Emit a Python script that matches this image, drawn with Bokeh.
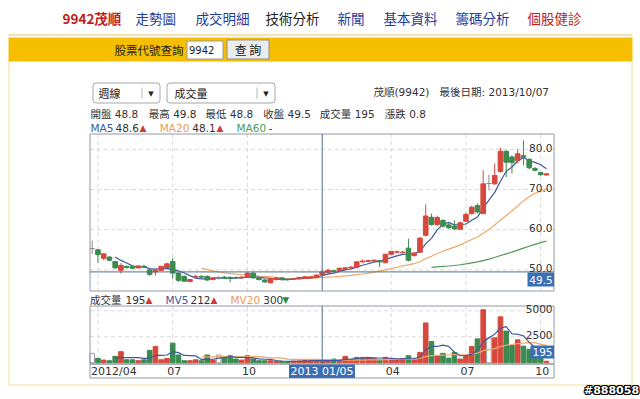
import numpy as np
import pandas as pd
from bokeh.plotting import figure
from bokeh.models import Range1d, ColumnDataSource
from bokeh.core.properties import value
from bokeh.embed import file_html
from bokeh.resources import INLINE

# ---------------- data (weekly candles, 9942 茂順) ----------------
opens = [55.3, 55.0, 52.9, 53.2, 52.1, 49.9, 50.9, 50.8, 50.5, 50.9,
         50.0, 49.5, 49.9, 50.6, 52.1, 49.2, 48.4, 47.1, 48.2, 48.4,
         48.4, 47.6, 48.1, 48.2, 48.1, 48.1, 48.0, 48.1, 49.2, 48.0,
         47.5, 46.8, 47.6, 48.0, 47.7, 47.7, 47.8, 47.9, 48.0, 48.1,
         48.8, 49.3, 49.8, 49.9, 50.1, 50.5, 50.7, 52.0, 52.1, 52.2,
         52.3, 51.8, 53.9, 54.4, 54.3, 55.4, 53.6, 54.4, 58.6, 63.1,
         61.3, 62.3, 61.2, 60.9, 60.1, 62.1, 64.0, 66.0, 64.0, 71.5,
         71.4, 74.5, 79.5, 78.1, 77.2, 78.4, 77.5, 75.2, 74.2, 73.6]
highs = [57.3, 55.2, 54.1, 53.4, 52.2, 51.7, 51.0, 51.0, 51.1, 51.3,
         50.2, 50.2, 51.0, 51.8, 53.0, 49.4, 48.6, 47.7, 48.8, 48.7,
         48.6, 48.1, 48.5, 48.5, 48.4, 48.4, 48.5, 49.4, 49.4, 48.2,
         47.7, 47.9, 48.2, 48.2, 47.9, 48.0, 48.3, 48.5, 48.4, 48.9,
         49.8, 50.3, 50.1, 50.6, 50.7, 50.9, 52.2, 52.6, 52.5, 52.6,
         52.4, 54.0, 54.7, 54.8, 54.7, 57.8, 54.5, 58.2, 66.3, 64.0,
         63.5, 62.6, 61.6, 62.3, 62.0, 64.2, 66.0, 66.5, 74.8, 73.7,
         76.5, 80.4, 79.8, 78.5, 80.0, 82.2, 77.8, 75.6, 74.4, 74.0]
lows = [54.0, 51.8, 52.4, 52.2, 50.3, 49.1, 50.3, 50.2, 50.4, 50.4,
        48.5, 48.6, 49.7, 50.4, 47.8, 47.0, 47.0, 47.0, 47.8, 47.9,
        47.3, 47.4, 47.6, 47.7, 46.9, 47.7, 47.8, 48.0, 47.9, 47.4,
        46.8, 46.6, 47.4, 47.4, 47.3, 47.5, 47.6, 47.8, 47.9, 48.0,
        48.8, 49.2, 49.3, 49.8, 49.9, 50.2, 50.6, 51.8, 51.9, 52.0,
        50.7, 51.6, 53.7, 54.1, 54.0, 52.1, 53.3, 54.2, 58.3, 61.0,
        61.0, 60.5, 60.2, 59.9, 60.0, 62.0, 63.8, 64.0, 63.9, 69.8,
        71.2, 74.2, 73.1, 74.0, 76.5, 76.0, 75.0, 74.5, 73.4, 73.5]
closes = [55.3, 53.8, 54.0, 52.4, 50.5, 51.1, 50.6, 50.4, 51.0, 50.7,
          48.9, 49.9, 50.9, 51.5, 49.2, 47.4, 47.2, 47.6, 48.4, 48.2,
          47.5, 48.0, 48.1, 48.0, 47.9, 48.0, 48.2, 49.2, 48.0, 47.6,
          47.0, 47.8, 48.0, 47.6, 47.6, 47.8, 48.1, 48.3, 48.3, 48.7,
          49.5, 49.9, 49.6, 50.4, 50.5, 50.7, 52.0, 52.2, 52.3, 52.4,
          52.0, 53.9, 54.6, 54.5, 54.4, 52.4, 54.2, 57.9, 63.4, 61.3,
          63.0, 60.9, 60.5, 60.2, 61.7, 63.8, 65.6, 64.4, 71.4, 71.5,
          73.5, 79.5, 76.8, 76.7, 78.9, 78.0, 75.4, 74.8, 73.7, 73.9]
volumes = [910, 420, 260, 200, 620, 1070, 290, 290, 200, 290,
           1200, 1560, 290, 420, 1890, 750, 200, 200, 290, 200,
           750, 260, 750, 520, 680, 360, 260, 680, 360, 200,
           200, 200, 130, 130, 50, 160, 180, 290, 225, 170,
           195, 200, 360, 260, 620, 330, 520, 520, 520, 450,
           290, 520, 360, 330, 420, 680, 290, 1000, 3830, 2050,
           680, 910, 450, 1000, 360, 680, 1560, 2300, 5100, 2400,
           2400, 4420, 3050, 1660, 2210, 1600, 1300, 700, 500, 150]

tick_weeks = [1, 14, 27, 52, 65, 78]
tick_labels = ["2012/04", "07", "10", "04", "07", "10"]
cross_week = 40
cross_label = "2013 01/05"
price_ticks = [50, 60, 70, 80]
price_tick_labels = ["50.0", "60.0", "70.0", "80.0"]
vol_ticks = [2500, 5000]
vol_tick_labels = ["2500", "5000"]

nav_items = ["9942茂順", "走勢圖", "成交明細", "技術分析", "新聞", "基本資料", "籌碼分析", "個股健診"]
nav_colors = ["#c0201c", "#1f3d9c", "#1f3d9c", "#222222", "#1f3d9c", "#1f3d9c", "#1f3d9c", "#c0201c"]

# ---------------- derived ----------------
idx = list(range(len(closes)))
cl = pd.Series(closes)
vs = pd.Series(volumes, dtype=float)
ma5 = cl.rolling(5).mean().tolist()
ma20 = cl.rolling(20).mean().tolist()
ma60 = cl.rolling(60).mean().tolist()
mv5 = vs.rolling(5).mean().tolist()
mv20 = vs.rolling(20).mean().tolist()

RED, GREEN, FLAT = "#d8473b", "#3b8a50", "#8a8a8a"
cols = [RED if c > o else (GREEN if c < o else FLAT) for o, c in zip(opens, closes)]
vfill = [RED if c > o else (GREEN if c < o else "white") for o, c in zip(opens, closes)]
vline = [RED if c > o else (GREEN if c < o else "#9a9a9a") for o, c in zip(opens, closes)]
src = ColumnDataSource(dict(
    x=idx, o=opens, h=highs, l=lows, c=closes, v=volumes,
    top=[max(a, b) for a, b in zip(opens, closes)],
    bot=[min(a, b) for a, b in zip(opens, closes)],
    col=cols, vfill=vfill, vline=vline))

# ---------------- layout (page pixel geometry) ----------------
W, H = 640, 399
X0, DX = 91.7, 5.75            # pixel of week 0, pixels per week
Y50, PY = 269.4, 4.02          # pixel of price 50, pixels per price unit
V0, VS = 362.3, 26.0 / 2500    # pixel of volume 0, pixels per lot
CL, CR = 89.5, 553.5           # chart frame left/right
PT, PB = 133.5, 290.5          # price frame top/bottom
VT, VB = 305.5, 363.5          # volume frame top/bottom

F = "DejaVu Sans, Noto Sans CJK TC"
FC = "Noto Sans CJK TC"

p = figure(width=W, height=H, x_range=Range1d(0, W), y_range=Range1d(H, 0),
           output_backend="svg", toolbar_location=None, min_border=0,
           x_axis_location=None, y_axis_location=None)
p.grid.visible = False
p.outline_line_color = None
p.background_fill_color = "white"
p.border_fill_color = "white"
p.extra_x_ranges = {"wk": Range1d((0 - X0) / DX, (W - X0) / DX)}
p.extra_y_ranges = {"px": Range1d(50 - (H - Y50) / PY, 50 + (Y50 - 0) / PY),
                    "vol": Range1d(-(H - V0) / VS, (V0 - 0) / VS)}


def txt(x, y, s, color="#333333", size="10.5px", font=F, align="left",
        baseline="middle", style="normal", **kw):
    p.text(x=[x], y=[y], text=[s], text_color=color, text_font=value(font),
           text_font_size=size, text_align=align, text_baseline=baseline,
           text_font_style=style, **kw)


# ---- header / navigation ----
nav_x = [62, 135, 195, 265, 337, 383, 455, 527]
for xx, s, c in zip(nav_x, nav_items, nav_colors):
    txt(xx, 17, s, color=c, size="13.5px", font=FC,
        style="bold" if s == "9942茂順" else "normal")
p.segment(x0=[8], y0=[34.5], x1=[632], y1=[34.5], line_color="#e8c95a", line_width=1)
p.quad(left=[8], right=[632], top=[37], bottom=[61], fill_color="#f6be00", line_color=None)
txt(183, 49, "股票代號查詢", color="#222222", size="11.5px", font=FC, align="right")
p.quad(left=[186.5], right=[222.5], top=[40.5], bottom=[58.5], fill_color="white", line_color="#9a9a9a")
txt(188.5, 49.5, "9942", color="#222222", size="10px", font="DejaVu Sans")
p.quad(left=[226.5], right=[268.5], top=[39.5], bottom=[58.5], fill_color="#ececec", line_color="#8f8f8f")
txt(247.5, 49, "查 詢", color="#222222", size="12px", font=FC, align="center")

# ---- panel ----
p.quad(left=[8.5], right=[631.5], top=[61], bottom=[384.5], fill_color="white", line_color="#f1dc92")

# ---- selectors ----
p.quad(left=[92.5, 166.5], right=[159.5, 274.5], top=[82.5, 82.5], bottom=[102.5, 102.5],
       fill_color="white", line_color="#a8a8a8", border_radius=3)
p.segment(x0=[141.5, 256.5], y0=[87, 87], x1=[141.5, 256.5], y1=[98, 98], line_color="#b5b5b5")
txt(98, 92.5, "週線", color="#222222", size="11px", font=FC)
txt(174, 92.5, "成交量", color="#222222", size="11px", font=FC)
txt(150.5, 93, "▼", color="#222222", size="7px", font="DejaVu Sans", align="center")
txt(265.5, 93, "▼", color="#222222", size="7px", font="DejaVu Sans", align="center")
txt(373, 91, "茂順(9942)", color="#333333")
txt(548.5, 91, "最後日期: 2013/10/07", color="#333333", align="right")

# ---- info lines ----
k = cross_week
info = [(90, "開盤 %.1f" % opens[k]), (148.3, "最高 %.1f" % highs[k]),
        (205, "最低 %.1f" % lows[k]), (262.7, "收盤 %.1f" % closes[k]),
        (319.3, "成交量 %d" % volumes[k]), (384.3, "漲跌 %.1f" % (closes[k] - closes[k - 1]))]
for xx, s in info:
    txt(xx, 113.5, s)


def arrow(now, prev):
    return ("▲", "#d03a2e") if now >= prev else ("▼", "#2f8a3c")


a5 = arrow(ma5[k], ma5[k - 1])
a20 = arrow(ma20[k], ma20[k - 1])
txt(90, 127.5, "MA5", color="#3d5a9e")
txt(115, 127.5, "%.1f" % ma5[k])
txt(139, 127.5, a5[0], color=a5[1], size="9px")
txt(159.3, 127.5, "MA20", color="#ef9a5a")
txt(191.7, 127.5, "%.1f" % ma20[k])
txt(216, 127.5, a20[0], color=a20[1], size="9px")
txt(236, 127.5, "MA60", color="#4e9a56")
txt(268, 127.5, "-")

b0 = arrow(volumes[k], volumes[k - 1])
b5 = arrow(mv5[k], mv5[k - 1])
b20 = arrow(mv20[k], mv20[k - 1])
txt(89.5, 299.3, "成交量")
txt(125, 299.3, "%d" % volumes[k])
txt(145, 299.3, b0[0], color=b0[1], size="9px")
txt(165, 299.3, "MV5", color="#3d5a9e")
txt(190, 299.3, "%d" % round(mv5[k]))
txt(210, 299.3, b5[0], color=b5[1], size="9px")
txt(230, 299.3, "MV20", color="#ef9a5a")
txt(262.7, 299.3, "%d" % round(mv20[k]))
txt(281.7, 299.3, b20[0], color=b20[1], size="9px")

# ---- grids ----
GRID = dict(line_color="#d9d9d9", line_width=1, line_dash="4 3")
p.segment(x0=[CL] * 4, x1=[CR] * 4, y0=price_ticks, y1=price_ticks, y_range_name="px", **GRID)
p.segment(x0=[CL] * 2, x1=[CR] * 2, y0=vol_ticks, y1=vol_ticks, y_range_name="vol", **GRID)
n = len(tick_weeks)
p.segment(x0=tick_weeks, x1=tick_weeks, y0=[PT] * n, y1=[PB] * n, x_range_name="wk", **GRID)
p.segment(x0=tick_weeks, x1=tick_weeks, y0=[VT] * n, y1=[VB] * n, x_range_name="wk", **GRID)

# ---- moving averages ----
p.line(idx, ma60, x_range_name="wk", y_range_name="px", line_color="#4e9a56", line_width=1.2)
p.line(idx, ma20, x_range_name="wk", y_range_name="px", line_color="#f0a868", line_width=1.2)
p.line(idx, ma5, x_range_name="wk", y_range_name="px", line_color="#3d5a9e", line_width=1.2)

# ---- candles ----
p.segment(x0="x", y0="l", x1="x", y1="h", line_color="col", line_width=1, source=src,
          x_range_name="wk", y_range_name="px")
p.vbar(x="x", top="top", bottom="bot", width=0.8, fill_color="col", line_color="col",
       line_width=1, source=src, x_range_name="wk", y_range_name="px")

# ---- volume ----
p.vbar(x="x", top="v", bottom=0, width=0.8, fill_color="vfill", line_color="vline",
       line_width=1, source=src, x_range_name="wk", y_range_name="vol")
p.line(idx, mv20, x_range_name="wk", y_range_name="vol", line_color="#f0a868", line_width=1.2)
p.line(idx, mv5, x_range_name="wk", y_range_name="vol", line_color="#3d5a9e", line_width=1.2)

# ---- frames ----
FR = dict(fill_color=None, line_color="#8d9aa6", line_width=1)
p.quad(left=[CL], right=[CR], top=[PT], bottom=[PB], **FR)
p.quad(left=[CL], right=[CR], top=[VT], bottom=[VB], **FR)
p.quad(left=[CL], right=[CR], top=[VB], bottom=[377.5], **FR)

# ---- crosshair ----
XH = dict(line_color="#4f6e86", line_width=1)
p.segment(x0=[cross_week], x1=[cross_week], y0=[PT], y1=[PB], x_range_name="wk", **XH)
p.segment(x0=[cross_week], x1=[cross_week], y0=[VT], y1=[VB], x_range_name="wk", **XH)
p.segment(x0=[CL], x1=[CR], y0=[closes[k]], y1=[closes[k]], y_range_name="px", **XH)

# ---- axis labels ----
for t, s in zip(price_ticks, price_tick_labels):
    p.text(x=[CR - 1.5], y=[t], text=[s], y_range_name="px", text_align="right",
           text_baseline="middle", text_font=value(F), text_font_size="10.5px",
           text_color="#333333", y_offset=-1.5)
for t, s in zip(vol_ticks, vol_tick_labels):
    p.text(x=[CR - 1.5], y=[t], text=[s], y_range_name="vol", text_align="right",
           text_baseline="middle", text_font=value(F), text_font_size="10.5px",
           text_color="#333333", y_offset=-1.5)
for t, s in zip(tick_weeks, tick_labels):
    if s.startswith("2012"):
        txt(CL + 1, 370.8, s, size="11px")
    else:
        p.text(x=[t], y=[370.8], text=[s], x_range_name="wk", text_align="center",
               text_baseline="middle", text_font=value(F), text_font_size="11px",
               text_color="#333333", x_offset=1.5)

BLUE = "#3b6fb5"
p.quad(left=[288.5], right=[354.5], top=[364], bottom=[377.5], fill_color=BLUE, line_color=None)
txt(321.5, 370.8, cross_label, color="white", size="11px", align="center")
p.quad(left=[527], right=[CR], top=[272], bottom=[286], fill_color=BLUE, line_color=None)
txt(540.5, 279, "%.1f" % closes[k], color="white", size="10.5px", align="center")
p.quad(left=[530], right=[CR], top=[345], bottom=[358], fill_color=BLUE, line_color=None)
txt(542, 351.5, "%d" % volumes[k], color="white", size="10.5px", align="center")

# ---- watermark ----
WM = "#888058"
for dx, dy in [(-1, 0), (1, 0), (0, -1), (0, 1), (-1, -1), (1, 1), (-1, 1), (1, -1)]:
    p.text(x=[611 + dx], y=[390 + dy], text=[WM], text_align="center", text_baseline="middle",
           text_font=value("DejaVu Sans"), text_font_size="11px", text_font_style="bold",
           text_color="black")
p.text(x=[611], y=[390], text=[WM], text_align="center", text_baseline="middle",
       text_font=value("DejaVu Sans"), text_font_size="11px", text_font_style="bold",
       text_color="white")

open("out.html", "w").write(file_html(p, INLINE))
